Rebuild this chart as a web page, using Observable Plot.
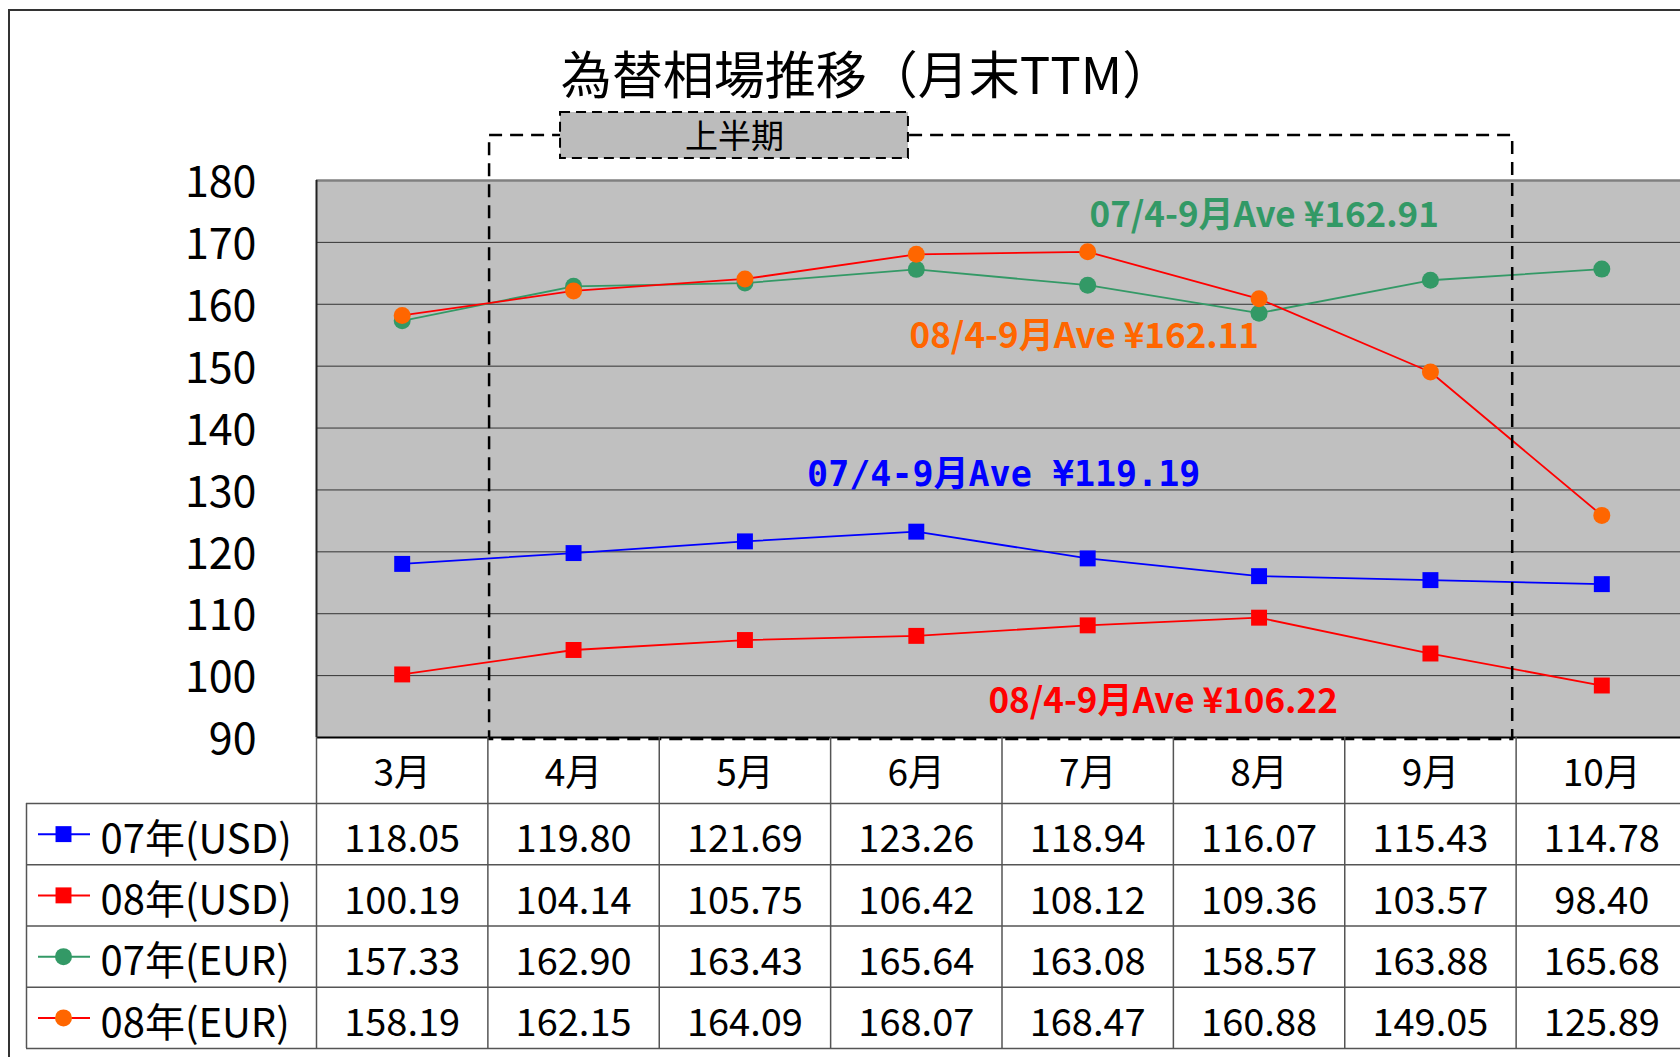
<!DOCTYPE html>
<html>
<head>
<meta charset="utf-8">
<script src="https://cdn.jsdelivr.net/npm/d3@7"></script>
<script src="https://cdn.jsdelivr.net/npm/@observablehq/plot@0.6"></script>
<style>
  body { margin: 0; background: #fff; }
  #wrap { position: relative; width: 1680px; height: 1057px; overflow: hidden; font-family: "Noto Sans CJK JP", sans-serif; background: #fff; }
  #wrap svg { position: absolute; left: 0; top: 0; }
  #border { position: absolute; left: 8px; top: 9px; width: 1720px; height: 1100px; border-left: 2px solid #333; border-top: 2px solid #333; }
  #title { position: absolute; left: 367px; width: 1000px; top: 38px; text-align: center; font-size: 51px; line-height: 68px; color: #000; z-index: 5; }
</style>
</head>
<body>
<div id="wrap">
  <div id="border"></div>
  <div id="title">為替相場推移（月末TTM）</div>
</div>
<script>
// ---- data ----
const months = ["3月", "4月", "5月", "6月", "7月", "8月", "9月", "10月"];
const yTicks = [90, 100, 110, 120, 130, 140, 150, 160, 170, 180];
const seriesNames = ["07年(USD)", "08年(USD)", "07年(EUR)", "08年(EUR)"];
const usd07 = [118.05, 119.80, 121.69, 123.26, 118.94, 116.07, 115.43, 114.78];
const usd08 = [100.19, 104.14, 105.75, 106.42, 108.12, 109.36, 103.57, 98.40];
const eur07 = [157.33, 162.90, 163.43, 165.64, 163.08, 158.57, 163.88, 165.68];
const eur08 = [158.19, 162.15, 164.09, 168.07, 168.47, 160.88, 149.05, 125.89];
const avgLabels = ["07/4-9月Ave ¥119.19", "08/4-9月Ave ¥106.22", "07/4-9月Ave ¥162.91", "08/4-9月Ave ¥162.11"];
const periodLabel = "上半期";
const periodStart = "4月", periodEnd = "9月";

// ---- styles ----
const values = [usd07, usd08, eur07, eur08];
const lineColors = ["#0000ff", "#ff0000", "#339966", "#ff0000"];
const markColors = ["#0000ff", "#ff0000", "#339966", "#ff6600"];
const symbols = ["square", "square", "circle", "circle"];
const radii = [9, 9, 8.5, 8.5];
const font = '"Noto Sans CJK JP", sans-serif';

const data = [];
values.forEach((arr, k) => arr.forEach((v, i) => data.push({k, series: seriesNames[k], i, value: v})));

// layout
const plotLeft = 316, plotRight = 1687, plotTop = 180, plotBottom = 737;
const tableTop = 803, tableBottom = 1048;
const colW = (plotRight - plotLeft) / months.length;
const rowH = (tableBottom - tableTop) / seriesNames.length;
const toIdx = px => (px - plotLeft) / colW - 0.5;
const hdrTop = (plotBottom - tableTop) / rowH;
const xDomain = [-0.5, months.length - 0.5];
const pStart = months.indexOf(periodStart) - 0.49;
const pEnd = months.indexOf(periodEnd) + 0.48;

// annotation placements [x index, y value]
const avgPos = [[3.51, 132.5], [4.44, 95.8], [5.03, 174.35], [3.98, 154.8]];

const marks = [
  Plot.frame({fill: "#c0c0c0"}),
  Plot.ruleY(yTicks.filter(t => t > 90 && t < 180), {stroke: "#333", strokeWidth: 1}),
  Plot.ruleY([180], {stroke: "#808080", strokeWidth: 2.5}),
  Plot.ruleY([90], {stroke: "#000", strokeWidth: 2}),
  Plot.ruleX([-0.5], {stroke: "#222", strokeWidth: 2}),
  Plot.axisY({ticks: yTicks, tickSize: 0, tickPadding: 60, fontSize: 43, label: null, dy: 3}),
  Plot.axisX({ticks: d3.range(months.length), tickFormat: i => months[i], tickSize: 0, tickPadding: 22, fontSize: 37, label: null})
];
values.forEach((arr, k) => {
  const rows = data.filter(d => d.k === k);
  marks.push(Plot.line(rows, {x: "i", y: "value", stroke: lineColors[k], strokeWidth: 1.8}));
});
values.forEach((arr, k) => {
  const rows = data.filter(d => d.k === k);
  marks.push(Plot.dot(rows, {x: "i", y: "value", symbol: symbols[k], r: radii[k], fill: markColors[k], stroke: "none"}));
});
// half-year dashed box
marks.push(Plot.rect([{x1: pStart, x2: pEnd, y1: 89.68, y2: 187.27}], {x1: "x1", x2: "x2", y1: "y1", y2: "y2", fill: "none", stroke: "#000", strokeWidth: 2.5, strokeDasharray: "13,8"}));
marks.push(Plot.rect([{x1: 0.924, x2: 2.954, y1: 183.55, y2: 190.99}], {x1: "x1", x2: "x2", y1: "y1", y2: "y2", fill: "#bcbcbc", stroke: "#000", strokeWidth: 2, strokeDasharray: "10,6"}));
marks.push(Plot.text([periodLabel], {x: 1.939, y: 187.0, text: d => d, fontSize: 33, fill: "#000"}));
// average annotations
avgLabels.forEach((t, k) => {
  marks.push(Plot.text([t], {
    x: avgPos[k][0], y: avgPos[k][1], text: d => d,
    fill: markColors[k], fontWeight: "bold",
    fontSize: 35,
    fontFamily: k === 0 ? '"DejaVu Sans Mono", "Noto Sans CJK JP", monospace' : font
  }));
});

const chart = Plot.plot({
  width: 1680, height: 1057,
  marginLeft: plotLeft, marginRight: 0, marginTop: plotTop, marginBottom: 1057 - plotBottom,
  style: {fontFamily: font, background: "transparent", color: "#000"},
  x: {domain: xDomain, range: [plotLeft, plotRight], label: null},
  y: {domain: [90, 180], range: [plotBottom, plotTop], label: null},
  marks
});

// ---- table ----
const xL = toIdx(26);
const tableMarks = [
  Plot.ruleY(d3.range(seriesNames.length + 1), {x1: xL, x2: xDomain[1], stroke: "#555", strokeWidth: 1.5}),
  Plot.ruleX(d3.range(months.length + 1).map(i => i - 0.5), {y1: hdrTop, y2: seriesNames.length, stroke: "#555", strokeWidth: 1.5}),
  Plot.ruleX([xL], {y1: 0, y2: seriesNames.length, stroke: "#555", strokeWidth: 1.5}),
  Plot.text(data, {x: "i", y: d => d.k + 0.5, text: d => d.value.toFixed(2), fontSize: 38, dy: 6, fill: "#000"}),
  Plot.text(seriesNames, {x: toIdx(100), y: (d, k) => k + 0.5, text: d => d, textAnchor: "start", fontSize: 40, dy: 6, fill: "#000"})
];
seriesNames.forEach((s, k) => {
  tableMarks.push(Plot.ruleY([k + 0.5], {x1: toIdx(38), x2: toIdx(90), stroke: lineColors[k], strokeWidth: 2}));
  tableMarks.push(Plot.dot([k + 0.5], {x: toIdx(63), y: d => d, symbol: symbols[k], r: radii[k], fill: markColors[k], stroke: "none"}));
});

const table = Plot.plot({
  width: 1680, height: 1057,
  marginLeft: 0, marginRight: 0, marginTop: tableTop, marginBottom: 1057 - tableBottom,
  style: {fontFamily: font, background: "transparent", color: "#000"},
  x: {domain: xDomain, range: [plotLeft, plotRight], axis: null},
  y: {domain: [0, seriesNames.length], range: [tableTop, tableBottom], axis: null},
  marks: tableMarks
});

const wrap = document.getElementById("wrap");
wrap.appendChild(chart);
wrap.appendChild(table);
</script>
</body>
</html>
